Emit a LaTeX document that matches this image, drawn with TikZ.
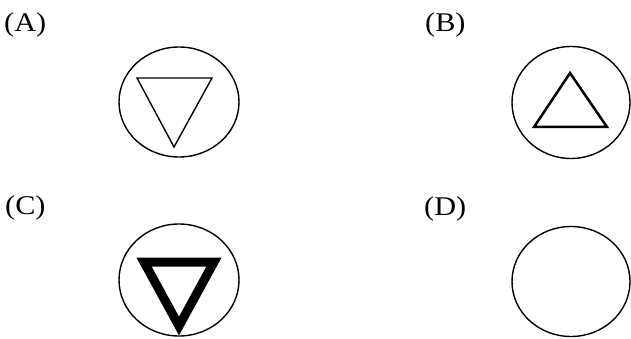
\documentclass[tikz,border=0pt]{standalone}
\usepackage{fontspec}
\setmainfont{Liberation Serif}
\usetikzlibrary{shapes.geometric}

\begin{document}
\begin{tikzpicture}[
    x=1pt, y=-1pt,
    lbl/.style={anchor=base west, inner sep=0pt, xscale=1.12, transform shape, font=\fontsize{27}{30}\selectfont},
    ring/.style={ellipse, draw, line width=1.4pt, inner sep=0pt, minimum width=120pt, minimum height=110pt},
    tri/.style={draw, line width=1.4pt, line join=miter},
    boldtri/.style={draw, line width=9pt, line join=miter}
]
\useasboundingbox (0,0) rectangle (631,339);

% Labels
\node (labA) [lbl] at (4,32) {(A)};
\node (labB) [lbl] at (425,32) {(B)};
\node (labC) [lbl] at (5,214) {(C)};
\node (labD) [lbl] at (424,215) {(D)};

% Circles
\node (ringA) [ring] at (179,102) {};
\node (ringB) [ring, minimum width=118pt, minimum height=112pt] at (571,102.5) {};
\node (ringC) [ring, minimum height=112pt] at (179,280) {};
\node (ringD) [ring, minimum width=118pt] at (571,281.5) {};

% Triangles
\draw [tri] (137,78) -- (212,78) -- (174,147) -- cycle;
\draw [tri, line width=2.5pt] (570,73) -- (607,127) -- (534,127) -- cycle;
\draw [boldtri] (144,262) -- (214,262) -- (179,326) -- cycle;

\end{tikzpicture}
\end{document}
